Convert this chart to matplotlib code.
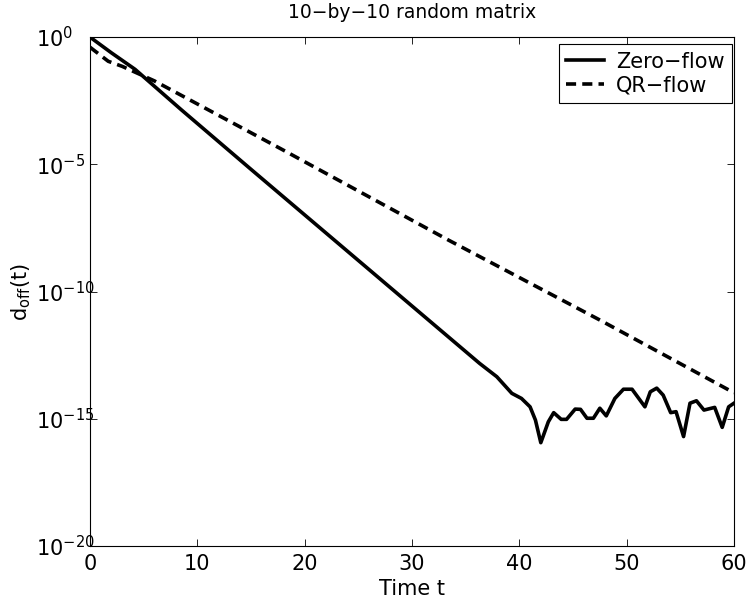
import matplotlib
matplotlib.use("Agg")
import matplotlib.pyplot as plt
from matplotlib.ticker import NullLocator

plt.rcParams['font.family'] = ['DejaVu Sans']
plt.rcParams['mathtext.fontset'] = 'custom'
plt.rcParams['mathtext.rm'] = 'DejaVu Sans'
plt.rcParams['mathtext.it'] = 'DejaVu Sans'

# values
zero_t = [0, 2, 4.2, 8.5, 14.9, 36.3, 37.9, 39.3, 40.2, 41.0, 41.5, 42.0,
          42.7, 43.2, 43.9, 44.4, 45.2, 45.7, 46.3, 46.9, 47.5, 48.1, 48.9,
          49.7, 50.5, 51.7, 52.2, 52.8, 53.4, 54.1, 54.6, 55.3, 55.9, 56.5,
          57.2, 58.2, 58.9, 59.5, 60]
zero_d = [1.0, 0.24, 0.054, 1.4e-3, 6.9e-6, 1.5e-13, 4.5e-14, 1.0e-14,
          6.3e-15, 2.95e-15, 8.9e-16, 1.15e-16, 7.6e-16, 1.74e-15, 9.5e-16,
          9.5e-16, 2.4e-15, 2.35e-15, 1.05e-15, 1.05e-15, 2.6e-15, 1.3e-15,
          6.3e-15, 1.45e-14, 1.45e-14, 2.95e-15, 1.15e-14, 1.6e-14, 8.5e-15,
          1.74e-15, 1.9e-15, 2.0e-16, 4.1e-15, 5.1e-15, 2.2e-15, 2.8e-15,
          4.6e-16, 2.95e-15, 4.1e-15]

qr_t = [0, 1.7, 3.0, 6.0, 18, 33.4, 47.5, 60]
qr_d = [0.40, 0.112, 0.0708, 0.019, 3.63e-5, 1.05e-8, 7.6e-12, 1.05e-14]

x_ticks = [0, 10, 20, 30, 40, 50, 60]
y_ticks = [1e0, 1e-5, 1e-10, 1e-15, 1e-20]

fig = plt.figure(figsize=(7.48, 6.03), dpi=100)
ax = fig.add_axes([0.1203, 0.0945, 0.861, 0.844])

ax.semilogy(zero_t, zero_d, color='k', lw=2.6, label='Zero\u2212flow')
ax.semilogy(qr_t, qr_d, color='k', lw=2.6, dashes=(2.8, 1.7), label='QR\u2212flow')

ax.set_xlim(0, 60)
ax.set_ylim(1e-20, 1e0)
ax.set_xticks(x_ticks)
ax.set_yticks(y_ticks)
ax.yaxis.set_minor_locator(NullLocator())

for s in ax.spines.values():
    s.set_linewidth(0.8)
ax.tick_params(direction='in', top=True, right=True, length=5, width=0.6,
               labelsize=15)
ax.tick_params(axis='x', pad=6)
ax.tick_params(axis='y', pad=39)
for lab in ax.get_yticklabels():
    lab.set_ha('left')

ax.set_title('10\u2212by\u221210 random matrix', fontsize=13.5, pad=14)
ax.set_xlabel('Time t', fontsize=15, labelpad=3)
ax.set_ylabel(r'd$_{\mathrm{off}}$(t)', fontsize=15)
ax.yaxis.set_label_coords(-0.088, 0.5)

leg = ax.legend(loc='upper right', bbox_to_anchor=(0.997, 0.986),
                borderaxespad=0, fontsize=15, handlelength=1.8,
                handletextpad=0.6, labelspacing=0.2, borderpad=0.35,
                fancybox=False, framealpha=1)
leg.get_frame().set_edgecolor('k')
leg.get_frame().set_linewidth(0.8)

fig.savefig('out.png', dpi=100)
